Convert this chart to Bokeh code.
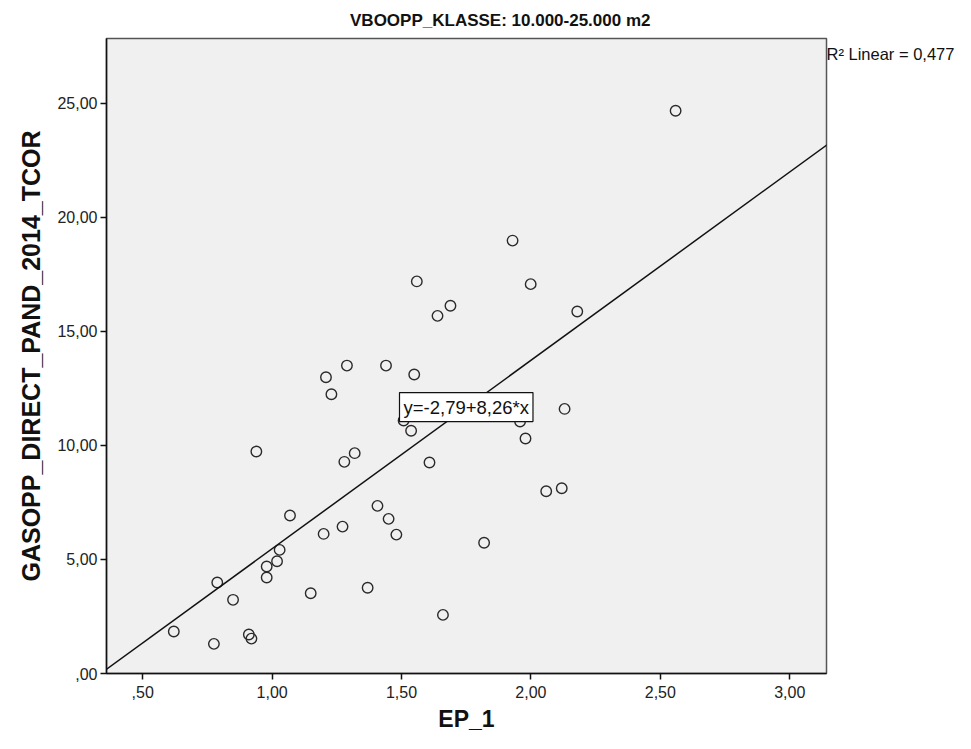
import numpy as np
from bokeh.plotting import figure
from bokeh.models import Range1d, FixedTicker, Label, Slope, LinearAxis
from bokeh.embed import file_html
from bokeh.resources import INLINE

# ---- data ----
ep_1 = [2.559, 1.929, 1.999, 1.559, 1.689, 1.639, 2.179, 1.208, 1.289, 1.440,
        1.549, 1.229, 2.130, 1.508, 1.958, 1.537, 1.979, 0.939, 1.319, 1.279,
        1.608, 2.059, 2.119, 1.069, 1.407, 1.450, 1.272, 1.199, 1.480, 1.819,
        1.029, 1.019, 0.979, 0.979, 0.788, 1.149, 1.369, 0.849, 1.660,
        0.620, 0.910, 0.920, 0.775]
gasopp = [24.67, 18.98, 17.07, 17.19, 16.12, 15.68, 15.87, 12.99, 13.50, 13.50,
          13.11, 12.24, 11.60, 11.09, 11.05, 10.64, 10.30, 9.73, 9.66, 9.28,
          9.25, 7.99, 8.12, 6.93, 7.35, 6.78, 6.44, 6.12, 6.09, 5.73,
          5.42, 4.92, 4.69, 4.21, 3.99, 3.52, 3.76, 3.23, 2.57,
          1.84, 1.71, 1.53, 1.30]

x_ticks = [0.5, 1.0, 1.5, 2.0, 2.5, 3.0]
x_tick_labels = [",50", "1,00", "1,50", "2,00", "2,50", "3,00"]
y_ticks = [0, 5, 10, 15, 20, 25]
y_tick_labels = [",00", "5,00", "10,00", "15,00", "20,00", "25,00"]

fit_intercept = -2.79
fit_slope = 8.26
r_squared = 0.477

title_text = "VBOOPP_KLASSE: 10.000-25.000 m2"
x_label = "EP_1"
y_label = "GASOPP_DIRECT_PAND_2014_TCOR"

FONT = "Liberation Sans"
X_START, X_END = 0.36, 3.142
Y_START, Y_END = 0.0, 27.84

p = figure(width=970, height=748,
           x_range=Range1d(X_START, X_END), y_range=Range1d(Y_START, Y_END),
           output_backend="svg", toolbar_location=None,
           min_border_left=106, min_border_right=144,
           min_border_top=38, min_border_bottom=75)

p.background_fill_color = "#F0F0F0"
p.border_fill_color = "white"
p.outline_line_color = "#555555"
p.outline_line_width = 1.5
p.grid.visible = False

p.title.text = title_text
p.title.align = "right"
p.title.offset = 176
p.title.text_font = FONT
p.title.text_font_size = "17px"
p.title.text_font_style = "bold"
p.title.text_color = "#111111"
p.title.standoff = 17

for ax in (p.xaxis[0], p.yaxis[0]):
    ax.axis_line_color = "#111111"
    ax.axis_line_width = 1.5
    ax.major_tick_line_color = "#111111"
    ax.major_tick_line_width = 1.5
    ax.major_tick_in = 0
    ax.major_tick_out = 6
    ax.minor_tick_line_color = None
    ax.major_label_text_font = FONT
    ax.major_label_text_font_size = "16px"
    ax.major_label_text_color = "#222222"
    ax.axis_label_text_font = FONT
    ax.axis_label_text_font_style = "bold"
    ax.axis_label_text_color = "#111111"

p.xaxis.axis_label_text_font_size = "23px"
p.yaxis.axis_label_text_font_size = "25px"
p.xaxis.ticker = FixedTicker(ticks=x_ticks)
p.xaxis.major_label_overrides = dict(zip(x_ticks, x_tick_labels))
p.yaxis.ticker = FixedTicker(ticks=y_ticks)
p.yaxis.major_label_overrides = dict(zip(y_ticks, y_tick_labels))
p.xaxis.axis_label = x_label
p.yaxis.axis_label = y_label
p.xaxis.major_label_standoff = 6
p.xaxis.axis_label_standoff = 5
p.yaxis.major_label_standoff = 3
p.yaxis.axis_label_standoff = 9

# regression line
p.add_layout(Slope(gradient=fit_slope, y_intercept=fit_intercept,
                   line_color="#111111", line_width=1.5))

# data points
p.scatter(ep_1, gasopp, marker="circle", size=10.5, fill_color=None,
          line_color="#2a2a2a", line_width=1.4)

# equation box
eq_text = "y=" + f"{fit_intercept:.2f}".replace(".", ",") + "+" + \
          f"{fit_slope:.2f}".replace(".", ",") + "*x"
p.add_layout(Label(x=1.75, y=11.68, text=eq_text, text_align="center",
                   text_baseline="middle", text_font=FONT,
                   text_font_size="18.5px", text_color="#111111",
                   background_fill_color="white",
                   border_line_color="#111111", border_line_width=1.2,
                   padding=4))

# R squared note, set just outside the top-right corner of the frame
r2_text = "R² Linear = " + f"{r_squared:.3f}".replace("0.", "0,")
r2_pos = Y_END - 0.66
r2_axis = LinearAxis(ticker=FixedTicker(ticks=[r2_pos]),
                     major_label_overrides={r2_pos: r2_text},
                     axis_line_color=None, major_tick_line_color=None,
                     minor_tick_line_color=None,
                     major_tick_in=0, major_tick_out=0,
                     major_label_standoff=0,
                     major_label_text_font=FONT,
                     major_label_text_font_size="16.5px",
                     major_label_text_color="#111111")
p.add_layout(r2_axis, "right")

open("out.html", "w").write(file_html(p, INLINE))
